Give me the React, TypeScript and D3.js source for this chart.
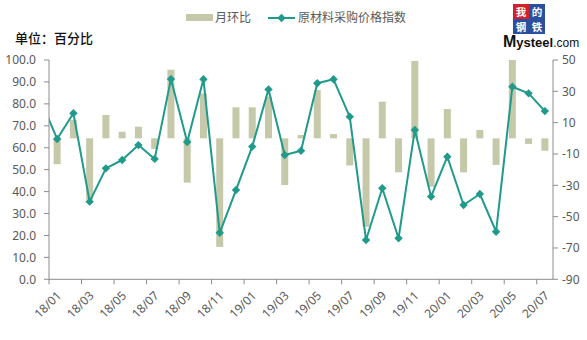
import React from "react";
import * as d3 from "d3";

const months = [
  "17/12",
  "18/01", "18/02", "18/03", "18/04", "18/05", "18/06", "18/07", "18/08", "18/09", "18/10", "18/11", "18/12",
  "19/01", "19/02", "19/03", "19/04", "19/05", "19/06", "19/07", "19/08", "19/09", "19/10", "19/11", "19/12",
  "20/01", "20/02", "20/03", "20/04", "20/05", "20/06", "20/07",
];

// 原材料采购价格指数 (left axis); first value (17/12) lies outside the plot and is clipped
const indexValues = [
  81.5,
  64.0, 75.7, 35.4, 50.6, 54.4, 61.2, 54.9, 91.3, 62.6, 91.2, 21.2, 40.7,
  60.5, 86.6, 56.7, 58.6, 89.4, 91.2, 74.1, 17.9, 41.5, 18.7, 68.1, 37.7,
  55.9, 33.9, 38.9, 21.7, 87.8, 84.8, 76.7,
];

// 月环比 (right axis)
const momValues = [
  null,
  -16.5, 11.7, -39.2, 14.9, 4.2, 7.4, -6.8, 43.8, -28.3, 28.7, -69.3, 19.8,
  19.8, 26.6, -29.8, 2.1, 30.8, 2.7, -17.3, -56.4, 23.4, -21.7, 49.4, -30.9,
  18.7, -21.7, 5.3, -17.0, 50.0, -3.6, -7.9,
];

const leftTicks = [0, 10, 20, 30, 40, 50, 60, 70, 80, 90, 100];
const rightTicks = [50, 30, 10, -10, -30, -50, -70, -90];
const xTickLabels = [
  "18/01", "18/03", "18/05", "18/07", "18/09", "18/11",
  "19/01", "19/03", "19/05", "19/07", "19/09", "19/11",
  "20/01", "20/03", "20/05", "20/07",
];

const W = 587;
const H = 340;
const L = 49;
const R = 553;
const T = 60;
const B = 279.3;

const FONT = "'Noto Sans', 'Noto Sans CJK SC', sans-serif";
const CJK = "'Noto Sans CJK SC', sans-serif";
const LINE_COLOR = "#1f9a8b";
const BAR_COLOR = "#c6c9a9";
const AXIS_COLOR = "#8c8c8c";
const TEXT_COLOR = "#595959";

const DIAMOND = "M0,-4.2L4.2,0L0,4.2L-4.2,0Z";

export default function App() {
  const nVisible = months.length - 1;
  const step = (R - L) / nVisible;
  const x = d3.scaleBand<string>().domain(months).range([L - step, R]).paddingInner(0).paddingOuter(0);
  const bw = x.bandwidth();
  const cx = (m: string) => (x(m) as number) + bw / 2;
  const yL = d3.scaleLinear().domain([0, 100]).range([B, T]);
  const yR = d3.scaleLinear().domain([-90, 50]).range([B, T]);

  const pts = months.map((m, i) => ({ m, v: indexValues[i], b: momValues[i] }));
  const line = d3
    .line<{ m: string; v: number }>()
    .x((d) => cx(d.m))
    .y((d) => yL(d.v));

  const barW = 7;

  return (
    <svg
      width={W}
      height={H}
      style={{ position: "absolute", left: 0, top: 0, background: "#fff" }}
      fontFamily={FONT}
    >
      <defs>
        <clipPath id="plot">
          <rect x={L} y={0} width={R - L} height={H} />
        </clipPath>
      </defs>
      <rect x={0} y={0} width={W} height={H} fill="#fff" />

      {/* bars */}
      <g clipPath="url(#plot)">
        {pts
          .filter((d) => d.b !== null)
          .map((d) => {
            const v = d.b as number;
            const y0 = yR(0);
            const y1 = yR(v);
            return (
              <rect
                key={"b" + d.m}
                x={cx(d.m) - barW / 2}
                y={Math.min(y0, y1)}
                width={barW}
                height={Math.abs(y1 - y0)}
                fill={BAR_COLOR}
              />
            );
          })}
      </g>

      {/* line */}
      <g clipPath="url(#plot)">
        <path d={line(pts) || ""} fill="none" stroke={LINE_COLOR} strokeWidth={2} strokeLinejoin="round" />
        {pts.slice(1).map((d) => (
          <path
            key={"p" + d.m}
            d={DIAMOND}
            transform={`translate(${cx(d.m)},${yL(d.v)})`}
            fill={LINE_COLOR}
          />
        ))}
      </g>

      {/* left axis */}
      <line x1={L} x2={L} y1={T} y2={B} stroke={AXIS_COLOR} strokeWidth={1} />
      {leftTicks.map((t) => (
        <g key={"l" + t}>
          <line x1={L - 5} x2={L} y1={yL(t)} y2={yL(t)} stroke={AXIS_COLOR} />
          <text x={36} y={yL(t)} dy="0.35em" textAnchor="end" fontSize={12} fill={TEXT_COLOR}>
            {t.toFixed(1)}
          </text>
        </g>
      ))}

      {/* right axis */}
      <line x1={R} x2={R} y1={T} y2={B} stroke={AXIS_COLOR} strokeWidth={1} />
      {rightTicks.map((t) => (
        <g key={"r" + t}>
          <line x1={R} x2={R + 5} y1={yR(t)} y2={yR(t)} stroke={AXIS_COLOR} />
          <text x={R + 9} y={yR(t)} dy="0.35em" textAnchor="start" fontSize={12} fill={TEXT_COLOR}>
            {t}
          </text>
        </g>
      ))}

      {/* bottom axis */}
      <line x1={L} x2={R} y1={B} y2={B} stroke={AXIS_COLOR} strokeWidth={1} />
      {xTickLabels.map((m) => {
        const tx = x(m) as number;
        return (
          <g key={"x" + m}>
            <line x1={tx} x2={tx} y1={B} y2={B + 5} stroke={AXIS_COLOR} />
            <text
              transform={`translate(${tx + 13},${B + 17}) rotate(-45)`}
              textAnchor="end"
              fontSize={12}
              fill={TEXT_COLOR}
            >
              {m}
            </text>
          </g>
        );
      })}

      {/* title */}
      <text x={15} y={43} fontSize={13} fill="#111" fontFamily={CJK} fontWeight={500}>
        单位：百分比
      </text>

      {/* legend */}
      <rect x={186} y={14} width={27} height={7} fill={BAR_COLOR} />
      <text x={215} y={22} fontSize={12} fill={TEXT_COLOR} fontFamily={CJK}>
        月环比
      </text>
      <line x1={268} x2={295} y1={18} y2={18} stroke={LINE_COLOR} strokeWidth={2} />
      <path d={DIAMOND} transform="translate(281.5,18)" fill={LINE_COLOR} />
      <text x={298} y={22} fontSize={12} fill={TEXT_COLOR} fontFamily={CJK}>
        原材料采购价格指数
      </text>

      {/* logo */}
      <rect x={513} y={4} width={16} height={15} fill="#d4202a" />
      <rect x={529} y={4} width={16} height={15} fill="#2a4f9c" />
      <rect x={513} y={19} width={16} height={15} fill="#2a4f9c" />
      <rect x={529} y={19} width={16} height={15} fill="#2a4f9c" />
      <g fontFamily={CJK} fontWeight={700} fontSize={10.5} fill="#fff" letterSpacing={5.5}>
        <text x={515.75} y={15.5}>我的</text>
        <text x={515.75} y={30.5}>钢铁</text>
      </g>
      <text x={503} y={47} fontFamily="'Liberation Sans', Arial, sans-serif" fill="#111">
        <tspan fontSize={16} fontWeight={700}>M</tspan>
        <tspan fontSize={13} fontWeight={700}>ysteel</tspan>
        <tspan fontSize={12}>.com</tspan>
      </text>
    </svg>
  );
}
